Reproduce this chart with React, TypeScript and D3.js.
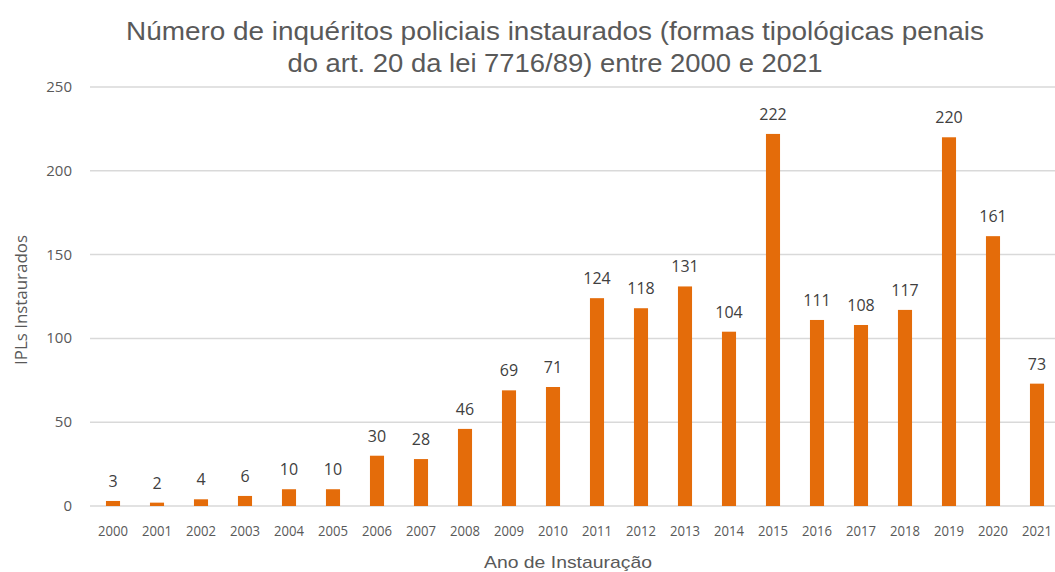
import React from "react";
import * as d3 from "d3";

const years = ["2000","2001","2002","2003","2004","2005","2006","2007","2008","2009","2010","2011","2012","2013","2014","2015","2016","2017","2018","2019","2020","2021"];
const values = [3,2,4,6,10,10,30,28,46,69,71,124,118,131,104,222,111,108,117,220,161,73];
const yTicks = [0,50,100,150,200,250];
const titleLines = ["Número de inquéritos policiais instaurados (formas tipológicas penais", "do art. 20 da lei 7716/89) entre 2000 e 2021"];
const titleWidths = [858, 535];

export default function App() {
  const W = 1055, H = 572;
  const x = d3.scaleBand<string>().domain(years).range([91, 1059]).paddingInner(0.68).paddingOuter(0.34);
  const y = d3.scaleLinear().domain([0, 250]).range([506, 87]);
  const font = "'Liberation Sans', Arial, sans-serif";
  const font2 = "'Open Sans', 'DejaVu Sans', sans-serif";
  return (
    <svg width={W} height={H} style={{ position: "absolute", left: 0, top: 0, background: "#fff" }}>
      <rect width={W} height={H} fill="#fff" />
      {titleLines.map((t, i) => (
        <text key={i} x={555} y={40 + i * 32} textAnchor="middle" fontFamily={font} fontSize={25} fill="#595959"
          textLength={titleWidths[i]} lengthAdjust="spacingAndGlyphs">{t}</text>
      ))}
      {yTicks.map(t => (
        <g key={t}>
          <line x1={90} x2={1055} y1={y(t)} y2={y(t)} stroke="#d9d9d9" strokeWidth={1.5} />
          <text x={72} y={y(t) + 5} textAnchor="end" fontFamily={font2} fontSize={15} fill="#595959">{t}</text>
        </g>
      ))}
      {years.map((yr, i) => {
        const bx = x(yr)!;
        const bw = x.bandwidth();
        return (
          <g key={yr}>
            <rect x={bx} y={y(values[i])} width={bw} height={y(0) - y(values[i])} fill="#E46C0A" />
            <text x={bx + bw / 2} y={y(values[i]) - 14} textAnchor="middle" fontFamily={font2} fontSize={16} fill="#404040">{values[i]}</text>
            <text x={bx + bw / 2} y={536} textAnchor="middle" fontFamily={font2} fontSize={14} fill="#595959"
              textLength={30} lengthAdjust="spacingAndGlyphs">{yr}</text>
          </g>
        );
      })}
      <text x={568} y={568} textAnchor="middle" fontFamily={font} fontSize={17} fill="#595959"
        textLength={168} lengthAdjust="spacingAndGlyphs">Ano de Instauração</text>
      <text transform={`translate(27,300) rotate(-90)`} textAnchor="middle" fontFamily={font2} fontSize={16} fill="#595959"
        textLength={130} lengthAdjust="spacingAndGlyphs">IPLs Instaurados</text>
    </svg>
  );
}
